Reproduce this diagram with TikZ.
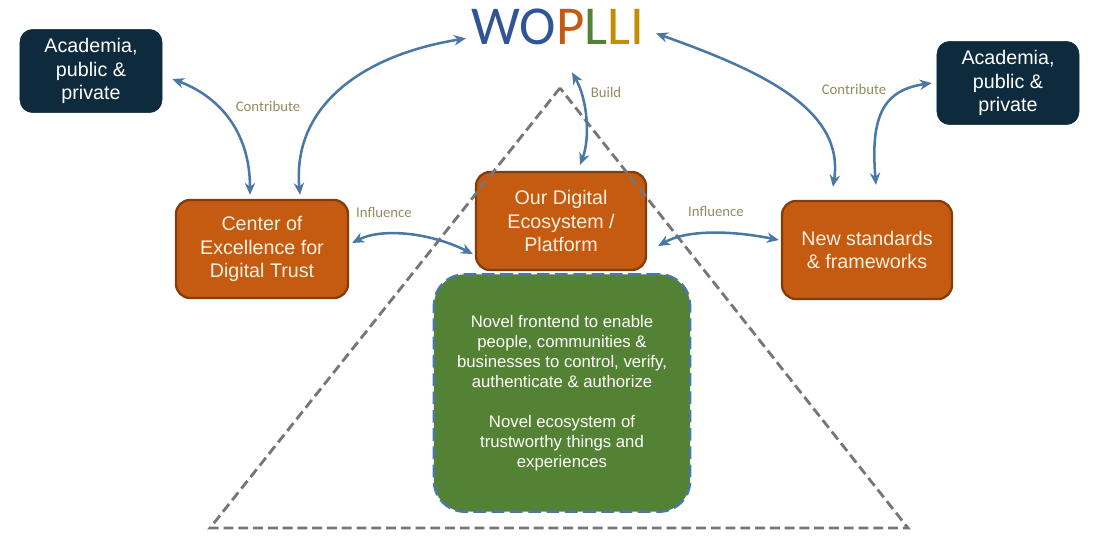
\documentclass[tikz,border=0pt]{standalone}
\usepackage{fontspec}
\setmainfont{Liberation Sans}
\newfontfamily\calfont{Carlito}
\usetikzlibrary{arrows.meta, positioning, calc}
\definecolor{navy}{HTML}{0E2B3D}
\definecolor{rust}{HTML}{C55A11}
\definecolor{rustdk}{HTML}{843C0C}
\definecolor{cream}{HTML}{FFF2E2}
\definecolor{leaf}{HTML}{548235}
\definecolor{linkblue}{HTML}{4A78A6}
\definecolor{dashgray}{HTML}{767676}
\definecolor{tan}{HTML}{938C61}
\definecolor{wblue}{HTML}{2F5597}
\definecolor{wgold}{HTML}{BF9000}
\newcommand\boxfont{\fontsize{14}{16.5}\selectfont}
\newcommand\ecofont{\fontsize{11.9}{14.3}\selectfont}
\newcommand\tagfont{\calfont\fontsize{10.5}{12}\selectfont}
\newcommand\titlefont{\calfont\fontsize{39}{40}\selectfont}

\begin{document}
\begin{tikzpicture}[
  x=0.025cm, y=-0.025cm,
  >={Stealth[length=3mm, width=2.6mm]},
  partnerbox/.style={
    fill=navy, draw=navy, rounded corners=9pt, text=white,
    font=\boxfont, align=center, inner sep=2pt,
    minimum width=3.55cm, minimum height=2.08cm
  },
  corebox/.style={
    fill=rust, draw=rustdk, line width=1.6pt, rounded corners=10pt,
    text=cream, font=\boxfont, align=center, inner sep=2pt,
    minimum width=4.25cm, minimum height=2.45cm
  },
  ecobox/.style={
    fill=leaf, draw=linkblue, line width=1.8pt, dash pattern=on 9pt off 4pt,
    rounded corners=22pt, text=white, font=\ecofont, align=center,
    minimum width=6.4cm, minimum height=5.93cm
  },
  tri/.style={draw=dashgray, line width=2pt, dash pattern=on 7pt off 3.5pt},
  link/.style={<->, line width=1.8pt, linkblue},
  tag/.style={font=\tagfont, text=tan},
]

% Background / frame
\fill[white] (0,0) rectangle (1106,545);
\useasboundingbox (0,0) rectangle (1106,545);

% Title
\node[font=\titlefont, inner sep=0pt, anchor=base] (woplli) at (558,45)
  {\color{wblue}WO\color{rust}P\color{leaf}L\color{wgold}LI};

% =============================================
% Boxes
% =============================================
\node[partnerbox] (acadL) at (91,71) {Academia,\\public \&\\private};
\node[partnerbox] (acadR) at (1008,83) {Academia,\\public \&\\private};

\node[corebox, minimum width=4.3cm] (coe) at (262,249)
  {Center of\\Excellence for\\Digital Trust};
\node[corebox] (digital) at (561,221)
  {Our Digital\\Ecosystem /\\Platform};
\node[corebox] (newstd) at (867,250)
  {New standards\\\& frameworks};

\node[ecobox] (eco) at (562,393)
  {Novel frontend to enable\\people, communities \&\\businesses to control, verify,\\authenticate \& authorize\\[14pt]
   Novel ecosystem of\\trustworthy things and\\experiences};

% Triangle
\coordinate (apex) at (560,88);
\coordinate (baseL) at (210,528);
\coordinate (baseR) at (908,528);
\draw[tri] (apex) -- (baseL) -- (baseR) -- cycle;

% =============================================
% Connectors
% =============================================
\draw[link] ($(acadL.east)+(10,8)$) .. controls +(43,16) and +(0,-67) .. ($(coe.north)+(-12,-4)$);
\draw[link] ($(coe.north)+(38,-4)$) .. controls +(-8,-87) and +(-106,17) .. ($(woplli.center)+(-92,11)$);
\draw[link] ($(digital.north)+(19,-6)$) .. controls +(10,-26) and +(16,28) .. ($(woplli.center)+(14,45)$);
\draw[link] ($(coe.east)+(3,-6)$) .. controls +(29,-15) and +(-44,-22) .. ($(digital.west)+(-2,33)$);
\draw[link] ($(digital.east)+(11,25)$) .. controls +(28,-16) and +(-50,-10) .. ($(newstd.west)+(-2,-10)$);
\draw[link] ($(newstd.north)+(-34,-13)$) .. controls +(12,-78) and +(104,37) .. ($(woplli.center)+(98,6)$);
\draw[link] ($(newstd.north)+(9,-15)$) .. controls +(-6,-71) and +(-47,7) .. ($(acadR.west)+(-5,0)$);

% Labels
\node[tag] (contribL) at (268,106) {Contribute};
\node[tag] (inflL) at (384,212) {Influence};
\node[tag] (build) at (606,92) {Build};
\node[tag] (inflR) at (716,211) {Influence};
\node[tag] (contribR) at (854,89) {Contribute};

\end{tikzpicture}
\end{document}
